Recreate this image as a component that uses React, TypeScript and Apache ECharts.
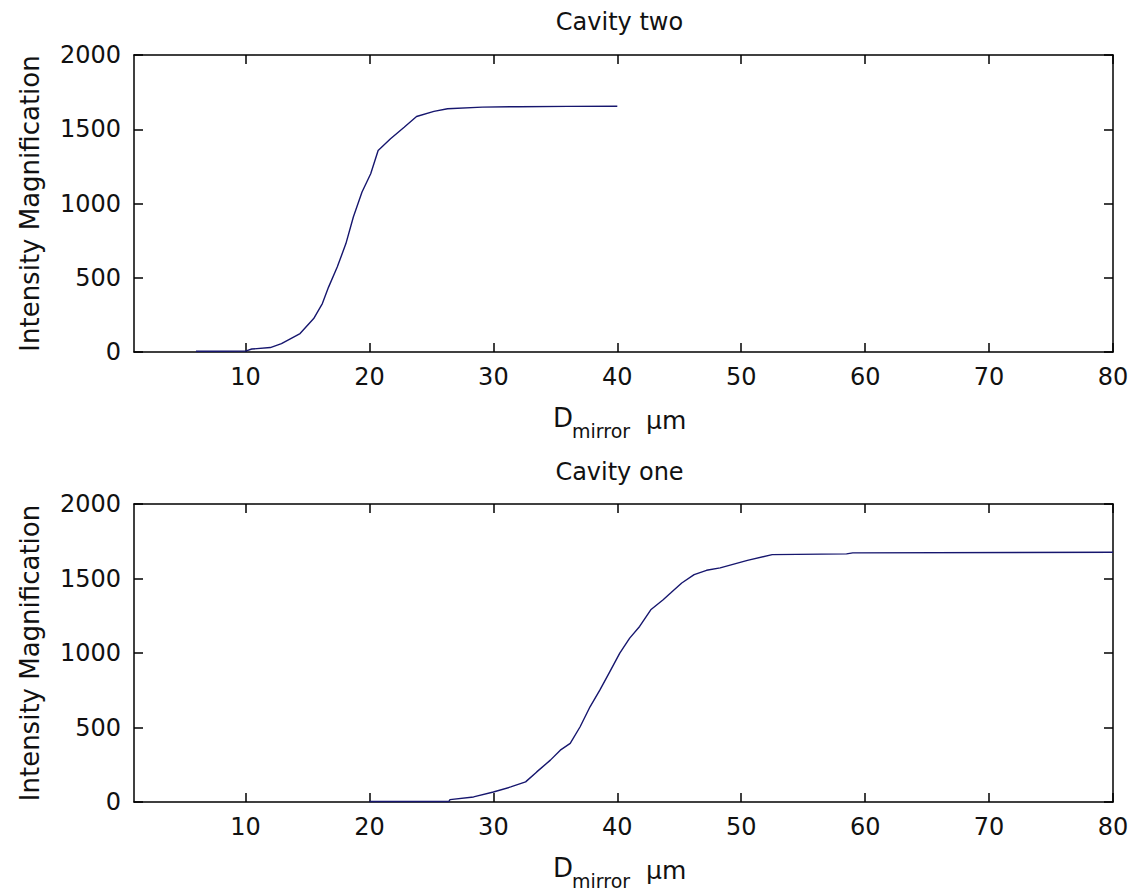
import React, { useEffect, useRef } from "react";
import * as echarts from "echarts";

const xTicks = [10, 20, 30, 40, 50, 60, 70, 80];
const yTicks = [0, 500, 1000, 1500, 2000];

const twoX = [6, 8, 10, 10.5, 12, 12.9, 14.4, 15.5, 16.2, 16.7, 17.4, 18.1, 18.7, 19.4, 20.1, 20.7, 21.7, 22.8, 23.8, 25.2, 26.3, 29.1, 32, 36, 40];
const twoY = [5, 5, 6, 20, 30, 57, 124, 225, 326, 437, 572, 730, 909, 1077, 1200, 1357, 1436, 1514, 1586, 1620, 1638, 1649, 1652, 1654, 1655];

const oneX = [20, 24, 26.4, 26.5, 28.4, 30, 31.4, 32.6, 33.5, 34.6, 35.4, 36.2, 37, 37.8, 38.6, 39.4, 40.2, 41, 41.8, 42.7, 43.7, 44.3, 45.2, 46.2, 47.2, 48.3, 50.5, 52.5, 58.5, 59, 80];
const oneY = [3, 3, 3, 16, 34, 67, 101, 135, 202, 281, 348, 393, 505, 639, 752, 875, 999, 1100, 1178, 1290, 1357, 1402, 1470, 1526, 1555, 1571, 1622, 1660, 1665, 1672, 1676];

const titles = ["Cavity two", "Cavity one"];
const yName = "Intensity Magnification";

const FONT = "DejaVu Sans";
const LINE_COLOR = "#16166e";

export default function App() {
  const ref = useRef<HTMLDivElement>(null);
  useEffect(() => {
    if (!ref.current) return;
    const chart = echarts.init(ref.current, undefined, { renderer: "svg" });
    const grids = [
      { left: 134, top: 55, width: 979, height: 297 },
      { left: 134, top: 504, width: 979, height: 298 },
    ];
    const axisLine = { show: true, onZero: false, lineStyle: { color: "#000", width: 1.5 } };
    const xAxes: any[] = [];
    const yAxes: any[] = [];
    grids.forEach((_, i) => {
      ["bottom", "top"].forEach((pos) => {
        xAxes.push({
          type: "value",
          gridIndex: i,
          position: pos,
          min: 1,
          max: 80,
          axisLine,
          axisTick: { show: true, inside: true, length: 9, customValues: xTicks, lineStyle: { color: "#000", width: 1.5 } },
          axisLabel: {
            show: pos === "bottom",
            customValues: xTicks,
            formatter: (v: number) => String(v),
            color: "#111",
            fontSize: 24,
            fontFamily: FONT,
            margin: 13,
          },
          splitLine: { show: false },
        });
      });
      ["left", "right"].forEach((pos) => {
        yAxes.push({
          type: "value",
          gridIndex: i,
          position: pos,
          min: 0,
          max: 2000,
          axisLine,
          axisTick: { show: true, inside: true, length: 9, customValues: yTicks, lineStyle: { color: "#000", width: 1.5 } },
          axisLabel: {
            show: pos === "left",
            customValues: yTicks,
            formatter: (v: number) => String(v),
            color: "#111",
            fontSize: 24,
            fontFamily: FONT,
            margin: 13,
          },
          splitLine: { show: false },
        });
      });
    });

    const seriesData = [
      twoX.map((x, k) => [x, twoY[k]]),
      oneX.map((x, k) => [x, oneY[k]]),
    ];

    const graphics: any[] = [];
    grids.forEach((g, i) => {
      const cx = g.left + g.width / 2 - 4;
      const off = i === 0 ? 0 : 450;
      graphics.push({
        type: "text",
        x: cx,
        y: i === 0 ? 22 : 472,
        style: { text: titles[i], font: `24px '${FONT}'`, fill: "#111", textAlign: "center", textVerticalAlign: "middle" },
      });
      graphics.push({
        type: "text",
        x: 30,
        y: g.top + g.height / 2,
        rotation: Math.PI / 2,
        style: { text: yName, font: `26px '${FONT}'`, fill: "#111", textAlign: "center", textVerticalAlign: "middle" },
      });
      graphics.push({
        type: "text",
        x: 553,
        y: 418 + off,
        style: { text: "D", font: `26px '${FONT}'`, fill: "#111", textAlign: "left", textVerticalAlign: "middle" },
      });
      graphics.push({
        type: "text",
        x: 572,
        y: 431 + off,
        style: { text: "mirror", font: `19px '${FONT}'`, fill: "#111", textAlign: "left", textVerticalAlign: "middle" },
      });
      graphics.push({
        type: "text",
        x: 646,
        y: 420 + off,
        style: { text: "\u03bcm", font: `25px '${FONT}'`, fill: "#111", textAlign: "left", textVerticalAlign: "middle" },
      });
    });

    chart.setOption({
      animation: false,
      backgroundColor: "#fff",
      grid: grids,
      xAxis: xAxes,
      yAxis: yAxes,
      series: seriesData.map((d, i) => ({
        type: "line",
        name: titles[i],
        xAxisIndex: i * 2,
        yAxisIndex: i * 2,
        data: d,
        showSymbol: false,
        symbol: "none",
        lineStyle: { color: LINE_COLOR, width: 1.4 },
        clip: true,
      })),
      graphic: graphics,
    });
    return () => chart.dispose();
  }, []);
  return (
    <div
      ref={ref}
      style={{ position: "fixed", left: 0, top: 0, width: 1132, height: 895, background: "#fff" }}
    />
  );
}
